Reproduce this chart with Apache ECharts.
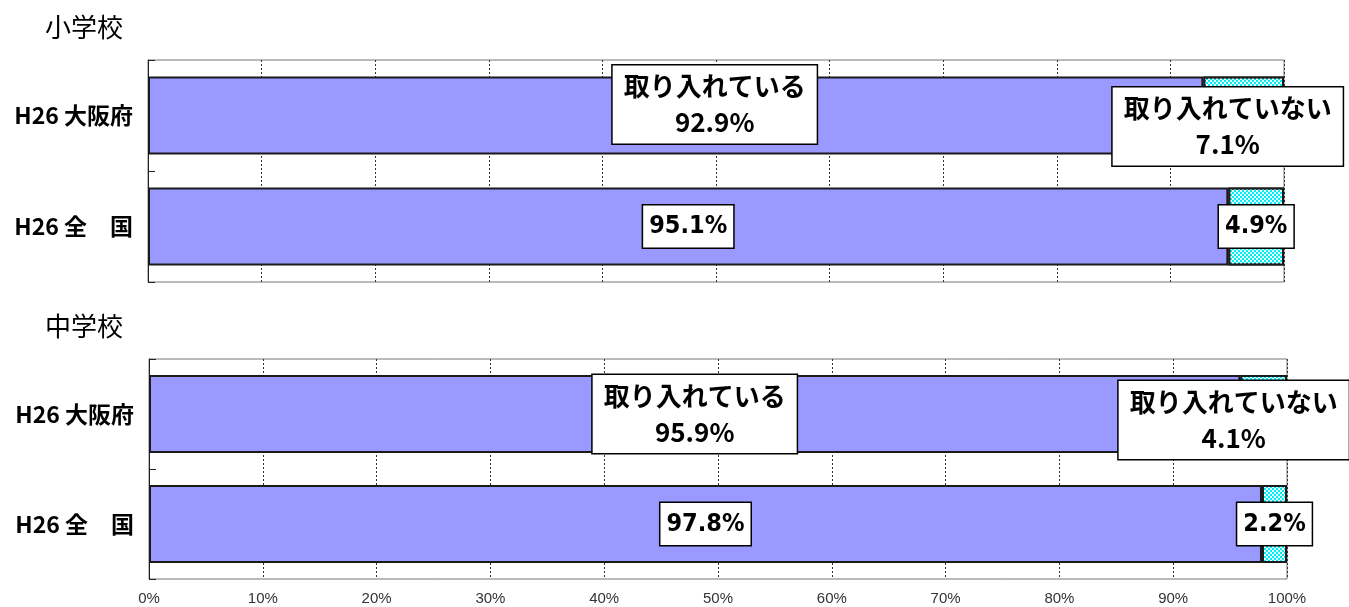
<!DOCTYPE html>
<html>
<head>
<meta charset="utf-8">
<script src="https://cdn.jsdelivr.net/npm/echarts@6/dist/echarts.min.js"></script>
<style>
html,body{margin:0;padding:0;background:#fff;}
#chart{width:1349px;height:607px;}
</style>
</head>
<body>
<div id="chart"></div>
<script>
const categories = ['H26 大阪府', 'H26 全\u3000国'];
const panelTitles = ['小学校', '中学校'];
const seriesNames = ['取り入れている', '取り入れていない'];
const elemYes = [92.9, 95.1];
const elemNo = [7.1, 4.9];
const juniorYes = [95.9, 97.8];
const juniorNo = [4.1, 2.2];

const chart = echarts.init(document.getElementById('chart'));

const labelFont = "'DejaVu Sans Condensed', 'Liberation Sans Narrow', 'Noto Sans CJK JP', sans-serif";
const baseLabel = {
  show: true,
  position: 'inside',
  color: '#000',
  fontWeight: 'bold',
  fontSize: 25,
  lineHeight: 36,
  fontFamily: labelFont,
  backgroundColor: '#fff',
  borderColor: '#000',
  borderWidth: 1.5,
  padding: [3, 6]
};

function makeData(values, firstLabelName, firstOffset) {
  return values.map((v, i) => {
    if (i === 0) {
      return {
        value: v,
        label: Object.assign({}, baseLabel, {
          formatter: firstLabelName + '\n{c}%',
          offset: firstOffset,
          fontFamily: "'Noto Sans CJK JP', sans-serif",
          fontSize: 26,
          padding: [3, 11]
        })
      };
    }
    return { value: v, label: Object.assign({}, baseLabel, { formatter: '{c}%' }) };
  });
}

const yesStyle = { color: '#9999ff', borderColor: '#1a1a1a', borderWidth: 2 };
const noStyle = {
  color: '#00eef5', borderColor: '#1a1a1a', borderWidth: 2,
  decal: { symbol: 'rect', symbolSize: 1, color: 'rgba(255,255,255,0.9)', dashArrayX: [[2, 2], [0, 2, 2, 0]], dashArrayY: [2, 0], rotation: 0 }
};

function xAxisFor(idx, showLabels) {
  return {
    gridIndex: idx, type: 'value', min: 0, max: 100, interval: 10,
    axisLine: { show: false },
    axisTick: { show: false },
    axisLabel: { show: showLabels, formatter: '{value}%', color: '#333', fontSize: 15, fontFamily: 'Liberation Sans', margin: 12 },
    splitLine: { show: true, lineStyle: { color: '#333', type: [2, 2], width: 1 } }
  };
}
function yAxisFor(idx) {
  return {
    gridIndex: idx, type: 'category', data: categories, inverse: true,
    axisLine: { show: true, lineStyle: { color: '#222', width: 1 } },
    axisTick: { show: true, inside: true, length: 7, lineStyle: { color: '#222' } },
    axisLabel: { color: '#000', fontSize: 23, fontWeight: 'bold', fontFamily: "'Noto Sans CJK JP', sans-serif", margin: 15 }
  };
}

const option = {
  animation: false,
  backgroundColor: '#fff',
  title: [
    { text: panelTitles[0], left: 40, top: 9, textStyle: { fontSize: 26, fontWeight: 'normal', color: '#000', fontFamily: "'Noto Sans CJK JP', sans-serif" } },
    { text: panelTitles[1], left: 40, top: 308, textStyle: { fontSize: 26, fontWeight: 'normal', color: '#000', fontFamily: "'Noto Sans CJK JP', sans-serif" } }
  ],
  grid: [
    { left: 148, top: 60, width: 1136, height: 222, show: true, borderColor: '#777', borderWidth: 1, backgroundColor: 'transparent' },
    { left: 149, top: 359, width: 1138, height: 220, show: true, borderColor: '#777', borderWidth: 1, backgroundColor: 'transparent' }
  ],
  xAxis: [xAxisFor(0, false), xAxisFor(1, true)],
  yAxis: [yAxisFor(0), yAxisFor(1)],
  series: [
    { name: seriesNames[0], type: 'bar', stack: 'e', xAxisIndex: 0, yAxisIndex: 0, barWidth: 78, itemStyle: yesStyle, data: makeData(elemYes, seriesNames[0], [39, -11]) },
    { name: seriesNames[1], type: 'bar', stack: 'e', xAxisIndex: 0, yAxisIndex: 0, barWidth: 78, itemStyle: noStyle, data: makeData(elemNo, seriesNames[1], [-16, 11]) },
    { name: seriesNames[0], type: 'bar', stack: 'j', xAxisIndex: 1, yAxisIndex: 1, barWidth: 78, itemStyle: yesStyle, data: makeData(juniorYes, seriesNames[0], [0, 0]) },
    { name: seriesNames[1], type: 'bar', stack: 'j', xAxisIndex: 1, yAxisIndex: 1, barWidth: 78, itemStyle: noStyle, data: makeData(juniorNo, seriesNames[1], [-30, 6]) }
  ]
};
chart.setOption(option);
</script>
</body>
</html>
